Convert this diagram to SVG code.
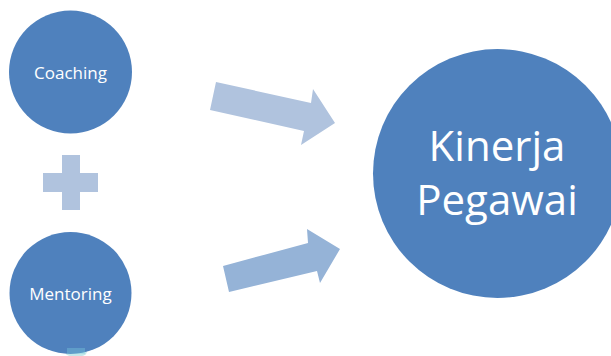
<svg xmlns="http://www.w3.org/2000/svg" width="611" height="356" viewBox="0 0 611 356">
<style>
.node{fill:#4f81bd}
.lbl{fill:#ffffff;font-family:"Open Sans","Liberation Sans",sans-serif;text-anchor:middle}
.sm{font-size:17px}
.big{font-size:42px}
</style>
<rect width="611" height="356" fill="#ffffff"/>
<g id="coaching">
<circle class="node" cx="70.5" cy="72" r="61.5"/>
<text class="lbl sm" x="70.5" y="79">Coaching</text>
</g>
<g id="plus">
<rect x="43" y="173" width="55" height="19" fill="#b0c3de"/>
<rect x="62" y="155" width="18" height="55" fill="#b0c3de"/>
</g>
<rect x="65" y="346" width="22" height="10" rx="5" fill="#c4e8ea"/>
<g id="mentoring">
<circle class="node" cx="70.5" cy="293" r="61"/>
<text class="lbl sm" x="70.5" y="299.5">Mentoring</text>
</g>
<rect x="67" y="348" width="18" height="6" fill="#7fd0e0" opacity="0.35"/>
<g id="kinerja">
<circle class="node" cx="497.5" cy="173.5" r="124.5"/>
<text class="lbl big" x="497" y="161">Kinerja</text>
<text class="lbl big" x="497" y="215">Pegawai</text>
</g>
<g id="connectors">
<polygon points="216,82 311,103 313,89 335,123 301,145 304,131 210,110" fill="#b0c3de"/>
<polygon points="223,266 308,243 307,229 340,249 320,283 317,271 229,292" fill="#95b3d7"/>
</g>
</svg>
